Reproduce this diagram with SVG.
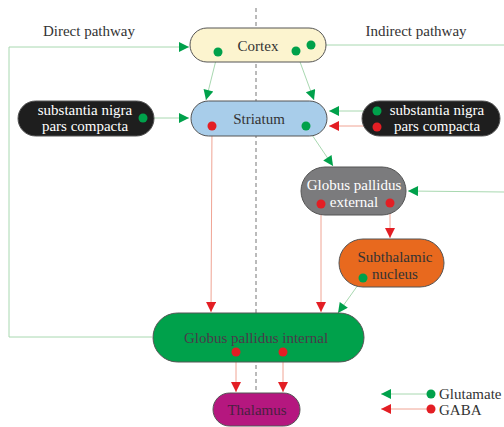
<svg xmlns="http://www.w3.org/2000/svg" width="504" height="427" viewBox="0 0 504 427">
<defs>
<style>
.node{stroke:#555;stroke-width:1}
.t{font-family:"Liberation Serif","Times New Roman",serif;font-size:15px;text-anchor:middle}
.glu{stroke:#a8d8b0;stroke-width:1;fill:none}
.gaba{stroke:#f0a494;stroke-width:1;fill:none}
.gd{fill:#00a14b}
.rd{fill:#e31e24}
</style>
<marker id="ag" viewBox="0 0 10 10" refX="10" refY="5" markerWidth="16" markerHeight="10" markerUnits="userSpaceOnUse" orient="auto"><path d="M0,0 L10,5 L0,10 z" fill="#00a14b"/></marker>
<marker id="ar" viewBox="0 0 10 10" refX="10" refY="5" markerWidth="16" markerHeight="10" markerUnits="userSpaceOnUse" orient="auto"><path d="M0,0 L10,5 L0,10 z" fill="#e31e24"/></marker>
</defs>
<rect width="504" height="427" fill="#fff"/>
<line x1="256" y1="8" x2="256" y2="395" stroke="#777" stroke-width="1" stroke-dasharray="4,3"/>
<text class="t" x="89" y="36" fill="#333">Direct pathway</text>
<text class="t" x="416" y="36" fill="#333">Indirect pathway</text>
<g id="connectors">
<path class="glu" d="M152,337 L9,337 L9,47 L189,47" marker-end="url(#ag)"/>
<path class="glu" d="M311,45 L504,45"/>
<path class="glu" d="M218,52 L206,100" marker-end="url(#ag)"/>
<path class="glu" d="M296,51 L314,100" marker-end="url(#ag)"/>
<path class="glu" d="M143,118 L189,118" marker-end="url(#ag)"/>
<path class="glu" d="M377,111 L329,111" marker-end="url(#ag)"/>
<path class="gaba" d="M377,126 L329,126" marker-end="url(#ar)"/>
<path class="glu" d="M306,126 L333,166" marker-end="url(#ag)"/>
<path class="glu" d="M504,192 L408,191" marker-end="url(#ag)"/>
<path class="gaba" d="M390,203 L390,238" marker-end="url(#ar)"/>
<path class="gaba" d="M321,204 L321,312" marker-end="url(#ar)"/>
<path class="gaba" d="M212,126 L211,312" marker-end="url(#ar)"/>
<path class="glu" d="M363,278 L338,313" marker-end="url(#ag)"/>
<path class="gaba" d="M236,352 L236,392" marker-end="url(#ar)"/>
<path class="gaba" d="M283,352 L283,392" marker-end="url(#ar)"/>
</g>
<g id="cortex">
<rect class="node" x="190" y="28" width="136" height="34" rx="17" fill="#fcf4cf"/>
<text class="t" x="258" y="51" fill="#333">Cortex</text>
<circle class="gd" cx="218" cy="52" r="4.5"/><circle class="gd" cx="296" cy="51" r="4.5"/><circle class="gd" cx="311" cy="45" r="4.5"/>
</g>
<g id="striatum">
<rect class="node" x="191" y="101" width="136" height="35" rx="17.5" fill="#a8cdea"/>
<text class="t" x="259" y="124" fill="#333">Striatum</text>
<circle class="rd" cx="212" cy="126" r="4.5"/><circle class="gd" cx="306" cy="126" r="4.5"/>
</g>
<g id="snpc-left">
<rect class="node" x="18" y="101" width="136" height="35" rx="17.5" fill="#1e1e1e"/>
<text class="t" x="85" y="115" fill="#fff">substantia nigra</text>
<text class="t" x="85" y="131" fill="#fff">pars compacta</text>
<circle class="gd" cx="143" cy="118" r="4.5"/>
</g>
<g id="snpc-right">
<rect class="node" x="362" y="101" width="138" height="35" rx="17.5" fill="#1e1e1e"/>
<text class="t" x="437" y="115" fill="#fff">substantia nigra</text>
<text class="t" x="437" y="131" fill="#fff">pars compacta</text>
<circle class="gd" cx="377" cy="111" r="4.5"/><circle class="rd" cx="377" cy="127" r="4.5"/>
</g>
<g id="gpe">
<rect class="node" x="301" y="167" width="105" height="48" rx="24" fill="#7b7b7d"/>
<text class="t" x="354" y="190" fill="#fff">Globus pallidus</text>
<text class="t" x="354" y="207" fill="#fff">external</text>
<circle class="rd" cx="321" cy="204" r="4.5"/><circle class="rd" cx="390" cy="203" r="4.5"/>
</g>
<g id="stn">
<rect class="node" x="339" y="239" width="105" height="48" rx="24" fill="#e8691e"/>
<text class="t" x="395" y="262" fill="#333">Subthalamic</text>
<text class="t" x="395" y="279" fill="#333">nucleus</text>
<circle class="gd" cx="363" cy="278" r="4.5"/>
</g>
<g id="gpi">
<rect class="node" x="153" y="313" width="211" height="49" rx="24.5" fill="#00a14b"/>
<text class="t" x="256" y="343" fill="#4a3a4a">Globus pallidus internal</text>
<circle class="rd" cx="236" cy="352" r="4.5"/><circle class="rd" cx="283" cy="352" r="4.5"/>
</g>
<g id="thalamus">
<rect class="node" x="213" y="393" width="87" height="33" rx="16.5" fill="#b5177f"/>
<text class="t" x="257" y="415" fill="#4a2040">Thalamus</text>
</g>
<g id="legend">
<path class="glu" d="M431,394 L381,394" marker-end="url(#ag)"/>
<circle class="gd" cx="431" cy="394" r="4.5"/>
<text x="439" y="399" font-family="Liberation Serif, serif" font-size="15" fill="#333">Glutamate</text>
<path class="gaba" d="M431,409 L381,409" marker-end="url(#ar)"/>
<circle class="rd" cx="431" cy="409" r="4.5"/>
<text x="439" y="415" font-family="Liberation Serif, serif" font-size="15" fill="#333">GABA</text>
</g>
</svg>
